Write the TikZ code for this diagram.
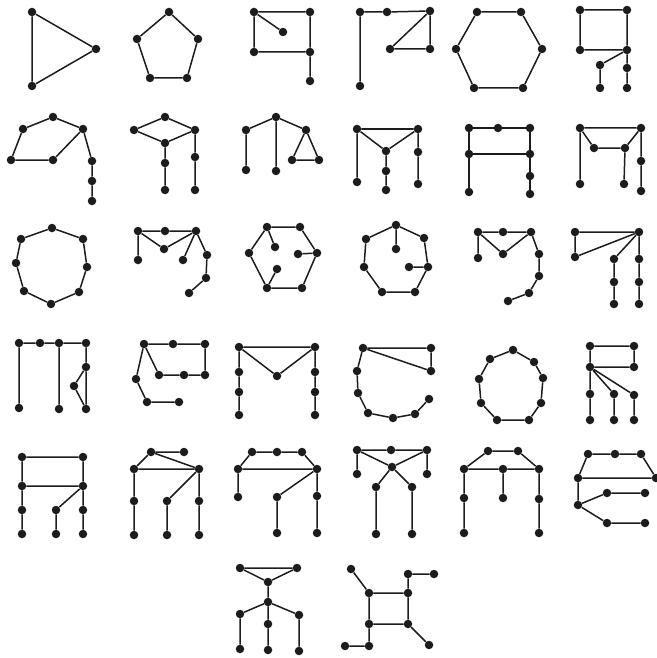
\documentclass[tikz,border=0pt]{standalone}
\usepackage{xcolor}
\definecolor{ink}{HTML}{1C1C1C}

\begin{document}
\begin{tikzpicture}[
  x=1pt, y=-1pt,
  dot/.style={circle, fill=ink, inner sep=0pt, minimum size=8.5pt},
  edge/.style={draw=ink, line width=1.5pt}
]
\useasboundingbox (0,0) rectangle (656,658);

% row 1
\foreach \n/\p in {a/{32,12}, b/{96,49}, c/{32,86}} \node[dot] (g1\n) at (\p) {};
\draw[edge] (g1a) -- (g1b) -- (g1c) -- (g1a);
\foreach \n/\p in {a/{169,12}, b/{198,39}, c/{187,78}, d/{150,78}, e/{137,39}} \node[dot] (g2\n) at (\p) {};
\draw[edge] (g2a) -- (g2b) -- (g2c) -- (g2d) -- (g2e) -- (g2a);
\foreach \n/\p in {a/{254,12}, b/{310,12}, c/{283,32}, d/{254,52}, e/{310,52}, f/{310,81}} \node[dot] (g3\n) at (\p) {};
\draw[edge] (g3a) -- (g3b) -- (g3e) -- (g3d) -- (g3a) -- (g3c) (g3e) -- (g3f);
\foreach \n/\p in {a/{360,12}, b/{387,12}, c/{430,11}, d/{390,49}, e/{430,49}, f/{360,86}} \node[dot] (g4\n) at (\p) {};
\draw[edge] (g4f) -- (g4a) -- (g4b) -- (g4c) -- (g4e) -- (g4d) -- (g4c);
\foreach \n/\p in {a/{477,12}, b/{521,12}, c/{542,49}, d/{523,88}, e/{474,88}, f/{456,49}} \node[dot] (g5\n) at (\p) {};
\draw[edge] (g5a) -- (g5b) -- (g5c) -- (g5d) -- (g5e) -- (g5f) -- (g5a);
\foreach \n/\p in {a/{580,10}, b/{627,10}, c/{627,50}, d/{580,50}, e/{600,65}, f/{600,88}, g/{627,68}, h/{627,88}} \node[dot] (g6\n) at (\p) {};
\draw[edge] (g6a) -- (g6b) -- (g6c) -- (g6d) -- (g6a) (g6c) -- (g6e) -- (g6f) (g6c) -- (g6g) -- (g6h);

% row 2
\foreach \n/\p in {a/{53,117}, b/{23,129}, c/{83,129}, d/{11,160}, e/{53,160}, f/{92,161}, g/{92,181}, h/{92,201}} \node[dot] (g7\n) at (\p) {};
\draw[edge] (g7c) -- (g7a) -- (g7b) -- (g7d) -- (g7e) -- (g7c) -- (g7f) -- (g7g) -- (g7h);
\foreach \n/\p in {a/{165,117}, b/{134,130}, c/{195,130}, d/{165,143}, e/{165,163}, f/{165,190}, g/{195,157}, h/{195,190}} \node[dot] (g8\n) at (\p) {};
\draw[edge] (g8b) -- (g8a) -- (g8c) -- (g8d) -- (g8b) (g8d) -- (g8e) -- (g8f) (g8c) -- (g8g) -- (g8h);
\foreach \n/\p in {a/{276,117}, b/{246,130}, c/{306,130}, d/{246,170}, e/{276,171}, f/{292,160}, g/{319,160}} \node[dot] (g9\n) at (\p) {};
\draw[edge] (g9d) -- (g9b) -- (g9a) -- (g9c) -- (g9f) -- (g9g) -- (g9c) (g9a) -- (g9e);
\foreach \n/\p in {a/{357,129}, b/{418,129}, c/{386,151}, d/{386,171}, e/{386,190}, f/{418,152}, g/{418,184}, h/{357,182}} \node[dot] (g10\n) at (\p) {};
\draw[edge] (g10h) -- (g10a) -- (g10b) -- (g10c) -- (g10a) (g10c) -- (g10d) -- (g10e) (g10b) -- (g10f) -- (g10g);
\foreach \n/\p in {a/{469,128}, b/{498,128}, c/{530,128}, d/{469,154}, e/{530,154}, f/{530,176}, g/{530,194}, h/{469,192}} \node[dot] (g11\n) at (\p) {};
\draw[edge] (g11h) -- (g11d) -- (g11a) -- (g11b) -- (g11c) -- (g11e) -- (g11f) -- (g11g) (g11d) -- (g11e);
\foreach \n/\p in {a/{580,128}, b/{641,128}, c/{594,148}, d/{625,148}, e/{641,161}, f/{641,191}, g/{580,184}, h/{624,184}} \node[dot] (g12\n) at (\p) {};
\draw[edge] (g12g) -- (g12a) -- (g12b) -- (g12d) -- (g12c) -- (g12a) (g12b) -- (g12e) -- (g12f) (g12d) -- (g12h);

% row 3
\foreach \n/\p in {a/{52,228}, b/{83,239}, c/{87,267}, d/{79,292}, e/{51,304}, f/{24,291}, g/{16,263}, h/{21,239}} \node[dot] (g13\n) at (\p) {};
\draw[edge] (g13a) -- (g13b) -- (g13c) -- (g13d) -- (g13e) -- (g13f) -- (g13g) -- (g13h) -- (g13a);
\foreach \n/\p in {a/{138,231}, b/{165,231}, c/{196,231}, d/{164,249}, e/{138,260}, f/{183,260}, g/{207,255}, h/{206,278}, i/{189,293}} \node[dot] (g14\n) at (\p) {};
\draw[edge] (g14e) -- (g14a) -- (g14b) -- (g14c) -- (g14d) -- (g14a) (g14c) -- (g14f) (g14c) -- (g14g) -- (g14h) -- (g14i);
\foreach \n/\p in {a/{267,227}, b/{300,227}, c/{317,253}, d/{302,288}, e/{267,288}, f/{249,253}, g/{275,247}, h/{298,254}, i/{277,269}} \node[dot] (g15\n) at (\p) {};
\draw[edge] (g15a) -- (g15b) -- (g15c) -- (g15d) -- (g15e) -- (g15f) -- (g15a) -- (g15g) (g15c) -- (g15h) (g15e) -- (g15i);
\foreach \n/\p in {a/{396,225}, b/{424,238}, c/{428,267}, d/{415,292}, e/{382,292}, f/{364,267}, g/{366,239}, h/{396,249}, i/{409,267}} \node[dot] (g16\n) at (\p) {};
\draw[edge] (g16a) -- (g16b) -- (g16c) -- (g16d) -- (g16e) -- (g16f) -- (g16g) -- (g16a) -- (g16h) (g16c) -- (g16i);
\foreach \n/\p in {a/{478,232}, b/{503,232}, c/{531,232}, d/{503,254}, e/{478,258}, f/{539,254}, g/{539,276}, h/{529,293}, i/{508,301}} \node[dot] (g17\n) at (\p) {};
\draw[edge] (g17e) -- (g17a) -- (g17b) -- (g17c) -- (g17d) -- (g17a) (g17c) -- (g17f) -- (g17g) -- (g17h) -- (g17i);
\foreach \n/\p in {a/{575,232}, b/{639,232}, c/{575,257}, d/{614,259}, e/{639,259}, f/{614,282}, g/{639,282}, h/{614,304}, i/{639,304}} \node[dot] (g18\n) at (\p) {};
\draw[edge] (g18c) -- (g18a) -- (g18b) -- (g18c) (g18b) -- (g18d) -- (g18f) -- (g18h) (g18b) -- (g18e) -- (g18g) -- (g18i);

% row 4
\foreach \n/\p in {a/{19,343}, b/{40,343}, c/{59,343}, d/{86,343}, e/{19,408}, f/{59,409}, g/{86,367}, h/{74,386}, i/{86,409}} \node[dot] (g19\n) at (\p) {};
\draw[edge] (g19e) -- (g19a) -- (g19b) -- (g19c) -- (g19d) -- (g19g) -- (g19h) -- (g19i) -- (g19g) (g19c) -- (g19f);
\foreach \n/\p in {a/{144,344}, b/{173,344}, c/{205,344}, d/{159,375}, e/{184,375}, f/{205,375}, g/{136,379}, h/{147,402}, i/{179,402}} \node[dot] (g20\n) at (\p) {};
\draw[edge] (g20d) -- (g20a) -- (g20b) -- (g20c) -- (g20f) -- (g20e) -- (g20d) (g20a) -- (g20g) -- (g20h) -- (g20i);
\foreach \n/\p in {a/{239,347}, b/{315,347}, c/{277,376}, d/{239,372}, e/{239,392}, f/{239,415}, g/{315,372}, h/{315,392}, i/{315,415}} \node[dot] (g21\n) at (\p) {};
\draw[edge] (g21a) -- (g21b) -- (g21c) -- (g21a) -- (g21d) -- (g21e) -- (g21f) (g21b) -- (g21g) -- (g21h) -- (g21i);
\foreach \n/\p in {a/{363,348}, b/{431,348}, c/{431,371}, d/{357,371}, e/{358,393}, f/{368,413}, g/{393,418}, h/{415,414}, i/{429,399}} \node[dot] (g22\n) at (\p) {};
\draw[edge] (g22c) -- (g22a) -- (g22b) -- (g22c) (g22a) -- (g22d) -- (g22e) -- (g22f) -- (g22g) -- (g22h) -- (g22i);
\foreach \n/\p in {a/{513,350}, b/{534,362}, c/{543,378}, d/{541,403}, e/{529,420}, f/{497,420}, g/{481,403}, h/{479,379}, i/{490,359}} \node[dot] (g23\n) at (\p) {};
\draw[edge] (g23a) -- (g23b) -- (g23c) -- (g23d) -- (g23e) -- (g23f) -- (g23g) -- (g23h) -- (g23i) -- (g23a);
\foreach \n/\p in {a/{590,346}, b/{634,346}, c/{590,367}, d/{634,367}, e/{590,394}, f/{614,394}, g/{634,395}, h/{590,420}, i/{614,420}, j/{634,420}} \node[dot] (g24\n) at (\p) {};
\draw[edge] (g24c) -- (g24a) -- (g24b) -- (g24d) -- (g24c) -- (g24e) -- (g24h) (g24c) -- (g24f) -- (g24i) (g24c) -- (g24g) -- (g24j);

% row 5
\foreach \n/\p in {a/{22,457}, b/{83,457}, c/{22,486}, d/{83,486}, e/{22,510}, f/{22,534}, g/{56,510}, h/{56,534}, i/{83,510}, j/{83,534}} \node[dot] (g25\n) at (\p) {};
\draw[edge] (g25c) -- (g25a) -- (g25b) -- (g25d) -- (g25c) -- (g25e) -- (g25f) (g25d) -- (g25g) -- (g25h) (g25d) -- (g25i) -- (g25j);
\foreach \n/\p in {a/{151,452}, b/{184,452}, c/{134,469}, d/{199,469}, e/{134,501}, f/{134,535}, g/{167,501}, h/{167,535}, i/{199,501}, j/{199,535}} \node[dot] (g26\n) at (\p) {};
\draw[edge] (g26b) -- (g26a) -- (g26c) -- (g26d) -- (g26a) (g26c) -- (g26e) -- (g26f) (g26d) -- (g26g) -- (g26h) (g26d) -- (g26i) -- (g26j);
\foreach \n/\p in {a/{252,452}, b/{277,452}, c/{302,452}, d/{238,469}, e/{317,469}, f/{238,497}, g/{277,497}, h/{317,496}, i/{277,533}, j/{317,533}} \node[dot] (g27\n) at (\p) {};
\draw[edge] (g27f) -- (g27d) -- (g27a) -- (g27b) -- (g27c) -- (g27e) -- (g27d) (g27e) -- (g27g) -- (g27i) (g27e) -- (g27h) -- (g27j);
\foreach \n/\p in {a/{357,450}, b/{391,450}, c/{427,450}, d/{357,474}, e/{427,474}, f/{392,467}, g/{376,487}, h/{412,487}, i/{376,534}, j/{412,534}} \node[dot] (g28\n) at (\p) {};
\draw[edge] (g28d) -- (g28a) -- (g28b) -- (g28c) -- (g28e) (g28a) -- (g28f) -- (g28c) (g28f) -- (g28g) -- (g28i) (g28f) -- (g28h) -- (g28j);
\foreach \n/\p in {a/{488,451}, b/{518,451}, c/{464,469}, d/{503,469}, e/{539,469}, f/{464,498}, g/{503,498}, h/{539,499}, i/{464,533}, j/{539,533}} \node[dot] (g29\n) at (\p) {};
\draw[edge] (g29c) -- (g29a) -- (g29b) -- (g29e) -- (g29d) -- (g29c) -- (g29f) -- (g29i) (g29d) -- (g29g) (g29e) -- (g29h) -- (g29j);
\foreach \n/\p in {a/{588,454}, b/{615,454}, c/{641,454}, d/{578,478}, e/{656,478}, f/{578,505}, g/{607,493}, h/{645,493}, i/{607,523}, j/{645,523}} \node[dot] (g30\n) at (\p) {};
\draw[edge] (g30d) -- (g30a) -- (g30b) -- (g30c) -- (g30e) -- (g30d) -- (g30f) -- (g30g) -- (g30h) (g30f) -- (g30i) -- (g30j);

% row 6
\foreach \n/\p in {a/{240,568}, b/{297,568}, c/{268,582}, d/{268,602}, e/{240,614}, f/{299,615}, g/{268,624}, h/{240,649}, i/{268,650}, j/{299,651}} \node[dot] (g31\n) at (\p) {};
\draw[edge] (g31a) -- (g31b) -- (g31c) -- (g31a) (g31c) -- (g31d) -- (g31e) -- (g31h) (g31d) -- (g31g) -- (g31i) (g31d) -- (g31f) -- (g31j);
\foreach \n/\p in {a/{351,569}, b/{408,574}, c/{434,574}, d/{369,593}, e/{408,593}, f/{369,624}, g/{408,624}, h/{345,646}, i/{369,646}, j/{429,645}} \node[dot] (g32\n) at (\p) {};
\draw[edge] (g32a) -- (g32d) -- (g32e) -- (g32g) -- (g32f) -- (g32d) (g32c) -- (g32b) -- (g32e) (g32f) -- (g32i) -- (g32h) (g32g) -- (g32j);
\end{tikzpicture}
\end{document}
